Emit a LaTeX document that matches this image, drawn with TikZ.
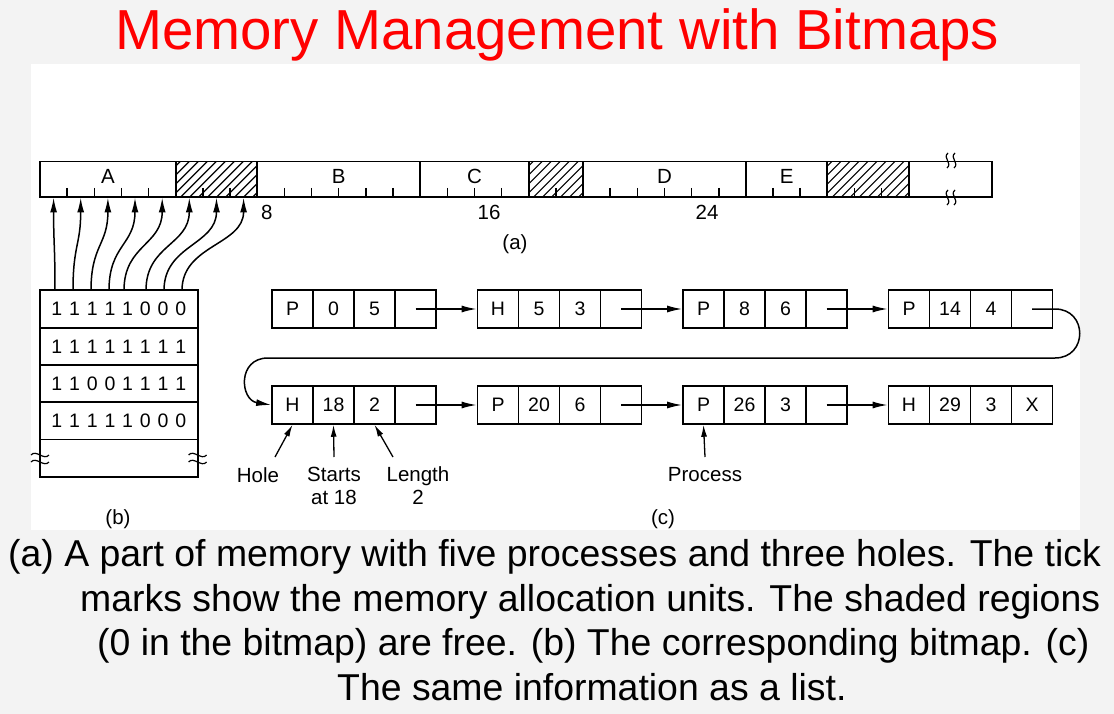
\documentclass[tikz,border=0pt]{standalone}
\usepackage{fontspec}
\setmainfont{Liberation Sans}
\usetikzlibrary{arrows.meta}
\definecolor{bggray}{RGB}{243,243,243}
\definecolor{titlered}{RGB}{255,0,0}
\tikzset{
 barline/.style={draw,line width=1.8pt},
 cell/.style={draw,line width=1.7pt,minimum width=41pt,minimum height=37.8pt,inner sep=0pt,font=\fontsize{19.5}{21}\selectfont},
 bitrow/.style={draw,line width=1.8pt,minimum width=157.6pt,minimum height=37.3pt,inner sep=0pt,font=\fontsize{19.5}{21}\selectfont},
 arr/.style={line width=1.5pt,-{Latex[length=15pt,width=7pt]}},
 arrs/.style={line width=1.3pt,-{Latex[length=12pt,width=6pt]}},
 lbl/.style={font=\fontsize{20.5}{23}\selectfont,inner sep=0pt,align=center},
 barlbl/.style={font=\fontsize{20.5}{22}\selectfont,inner sep=0pt},
 hatchline/.style={line width=1.1pt},
 captxt/.style={font=\fontsize{37.4}{40}\selectfont,inner sep=0pt,anchor=base west},
 tickmark/.style={line width=1.5pt},
 squiggle/.style={line width=1.2pt},
}
\newcommand\bb[1]{\makebox[17.7pt]{#1}}
\newcommand\rec[8]{%
 \node[cell] (#1a) at (#2+20.5,#3) {#4};
 \node[cell] (#1b) at (#2+61.5,#3) {#5};
 \node[cell] (#1c) at (#2+102.5,#3) {#6};
 \node[cell] (#1d) at (#2+143.5,#3) {#7};}
\newcommand\hatchbox[2]{%
 \begin{scope}
 \clip (#1,161.5) rectangle (#2,197);
 \foreach \h in {-40,-31,...,90}
   \draw[hatchline] (#1+\h,197) -- (#1+\h+35.5,161.5);
 \end{scope}}
\begin{document}
\begin{tikzpicture}[x=1pt,y=-1pt]
\useasboundingbox (0,0) rectangle (1114,714);
\fill[bggray] (0,0) rectangle (1114,714);
\fill[white] (31,64) rectangle (1080,530);
\node[anchor=base west,inner sep=0pt,text=titlered,font=\fontsize{56.4}{60}\selectfont] (title) at (115,49.3) {Memory Management with Bitmaps};

% ---------- (a) memory bar ----------
\hatchbox{175.75}{257.2}
\hatchbox{528.7}{583.0}
\hatchbox{827.35}{908.8}
\foreach \i in {1,2,3,4,6,7,9,10,11,12,13,15,16,17,19,21,22,23,24,25,27,28,30,31}
  \draw[tickmark] ({40+27.15*\i},188) -- ({40+27.15*\i},197);
\draw[barline] (40,161.5) rectangle (992,197);
\foreach \i in {5,8,14,18,20,26,29,32}
  \draw[barline] ({40+27.15*\i},161.5) -- ({40+27.15*\i},197);
\node[barlbl] (lA) at (107.9,176.5) {A};
\node[barlbl] (lB) at (338.6,176.5) {B};
\node[barlbl] (lC) at (474.4,176.5) {C};
\node[barlbl] (lD) at (664.5,176.5) {D};
\node[barlbl] (lE) at (786.6,176.5) {E};
\node[barlbl,anchor=west] (n8) at (261,212) {8};
\node[barlbl,anchor=west] (n16) at (477.5,212) {16};
\node[barlbl,anchor=west] (n24) at (695.5,212) {24};
\foreach \x in {947,954}{
  \draw[squiggle] (\x+1,153) .. controls (\x-5,158) and (\x+6,163) .. (\x,168);
  \draw[squiggle] (\x+1,190) .. controls (\x-5,195) and (\x+6,200) .. (\x,205);
}
\node[lbl] (capa) at (515,244) {(a)};

% ---------- (b) bitmap ----------
\node[bitrow] (row1) at (118.8,309) {\bb1\bb1\bb1\bb1\bb1\bb0\bb0\bb0};
\node[bitrow] (row2) at (118.8,346.3) {\bb1\bb1\bb1\bb1\bb1\bb1\bb1\bb1};
\node[bitrow] (row3) at (118.8,383.6) {\bb1\bb1\bb0\bb0\bb1\bb1\bb1\bb1};
\node[bitrow] (row4) at (118.8,420.9) {\bb1\bb1\bb1\bb1\bb1\bb0\bb0\bb0};
\node[bitrow] (row5) at (118.8,458.2) {};
\foreach \x in {40,197.6}{
  \draw[squiggle] (\x-9,455) .. controls (\x-4,449) and (\x+4,461) .. (\x+9,455);
  \draw[squiggle] (\x-9,462) .. controls (\x-4,456) and (\x+4,468) .. (\x+9,462);
}
\foreach \s/\e [count=\k] in {55/53.6,73/80.7,91/107.9,109/135.0,124/162.2,146/189.3,164/216.5,182/243.6}{
  \coordinate (bs\k) at (\s,290.3);
  \coordinate (me\k) at (\e,197.5);
  \draw[arr] (bs\k) .. controls (\s,245) and (\e,245) .. (me\k);
}
\node[lbl] (capb) at (118,519) {(b)};

% ---------- (c) list ----------
\rec{r1}{272}{309}{P}{0}{5}{}{}
\rec{r2}{477.5}{309}{H}{5}{3}{}{}
\rec{r3}{683}{309}{P}{8}{6}{}{}
\rec{r4}{888.5}{309}{P}{14}{4}{}{}
\rec{r5}{272}{405}{H}{18}{2}{}{}
\rec{r6}{477.5}{405}{P}{20}{6}{}{}
\rec{r7}{683}{405}{P}{26}{3}{}{}
\rec{r8}{888.5}{405}{H}{29}{3}{X}{}
\draw[arr] (r1d.center) -- (r2a.west);
\draw[arr] (r2d.center) -- (r3a.west);
\draw[arr] (r3d.center) -- (r4a.west);
\draw[arr] (r5d.center) -- (r6a.west);
\draw[arr] (r6d.center) -- (r7a.west);
\draw[arr] (r7d.center) -- (r8a.west);
\coordinate (loopA) at (1055,309);
\coordinate (loopB) at (1055,358);
\coordinate (loopC) at (268,358);
\draw[arr] (r4d.center) -- (loopA) .. controls (1088,309) and (1088,358) .. (loopB) -- (loopC) .. controls (237,358) and (240,400) .. (r5a.west);

\node[lbl] (hole) at (258,475) {Hole};
\node[lbl] (starts) at (334,486) {Starts\\at 18};
\node[lbl] (length) at (418,486) {Length\\2};
\node[lbl] (process) at (705,475) {Process};
\coordinate (ha) at (275,457);
\coordinate (sa) at (334,457);
\coordinate (la) at (393,457);
\coordinate (pa) at (705,457);
\draw[arrs] (ha) -- (r5a.south);
\draw[arrs] (sa) -- (r5b.south);
\draw[arrs] (la) -- (r5c.south);
\draw[arrs] (pa) -- (r7a.south);
\node[lbl] (capc) at (663,519) {(c)};

% ---------- caption ----------
\node[captxt] (cap1) at (8,566) {(a) A part of memory with five processes and three holes. The tick};
\node[captxt] (cap2) at (80,611) {marks show the memory allocation units. The shaded regions};
\node[captxt] (cap3) at (97,655) {(0 in the bitmap) are free. (b) The corresponding bitmap. (c)};
\node[captxt] (cap4) at (337,700) {The same information as a list.};
\end{tikzpicture}
\end{document}
